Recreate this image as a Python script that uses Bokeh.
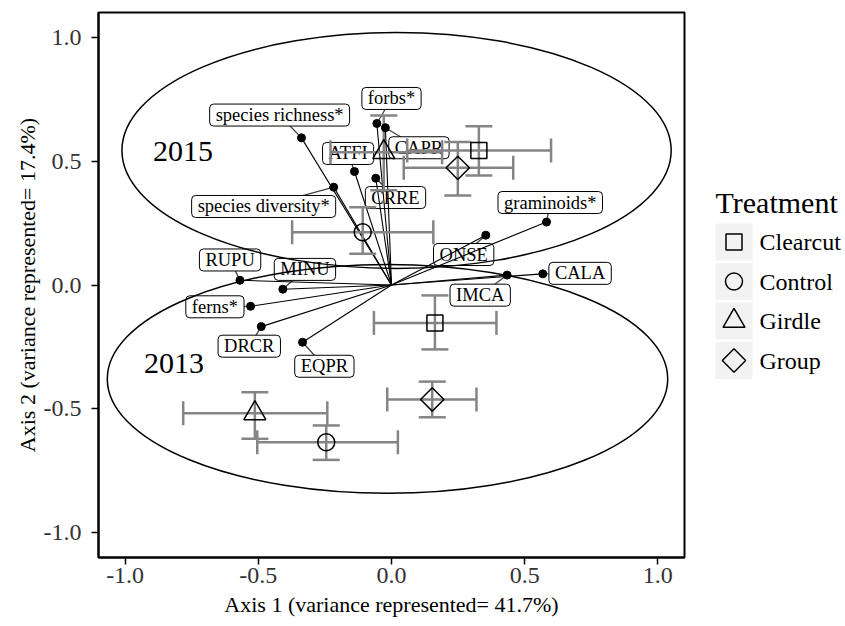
import numpy as np
from bokeh.plotting import figure
from bokeh.models import ColumnDataSource, Range1d, FixedTicker
from bokeh.layouts import row
from bokeh.embed import file_html
from bokeh.resources import INLINE
from bokeh.core.properties import value

# ---------------- data ----------------
vec_names = ["species richness*", "forbs*", "CAPR", "ATFI", "CRRE", "species diversity*",
             "graminoids*", "ONSE", "RUPU", "MINU", "IMCA", "CALA", "ferns*", "DRCR", "EQPR"]
vec_x = [-0.338, -0.055, -0.023, -0.139, -0.059, -0.217, 0.582, 0.354, -0.569, -0.408,
         0.434, 0.568, -0.529, -0.489, -0.334]
vec_y = [0.594, 0.652, 0.635, 0.458, 0.431, 0.395, 0.254, 0.201, 0.019, -0.017,
         0.040, 0.045, -0.086, -0.168, -0.231]
lab_x = [-0.420, 0.000, 0.103, -0.163, 0.015, -0.480, 0.596, 0.271, -0.606, -0.325,
         0.333, 0.708, -0.663, -0.534, -0.252]
lab_y = [0.686, 0.753, 0.554, 0.531, 0.353, 0.317, 0.333, 0.123, 0.101, 0.063,
         -0.041, 0.047, -0.088, -0.247, -0.328]

treatments = ["Clearcut", "Control", "Girdle", "Group"]
trt = treatments * 2
year = ["2015"] * 4 + ["2013"] * 4
cx = [0.328, -0.108, -0.029, 0.249, 0.163, -0.245, -0.513, 0.153]
cy = [0.543, 0.213, 0.536, 0.473, -0.153, -0.635, -0.518, -0.462]
x_lo = [0.059, -0.373, -0.229, 0.046, -0.066, -0.504, -0.782, -0.016]
x_hi = [0.599, 0.157, 0.190, 0.457, 0.394, 0.024, -0.241, 0.319]
y_lo = [0.442, 0.126, 0.382, 0.361, -0.260, -0.706, -0.621, -0.534]
y_hi = [0.641, 0.314, 0.684, 0.577, -0.042, -0.567, -0.433, -0.390]

ell_year = ["2015", "2013"]
ell_cx = [0.019, -0.015]
ell_cy = [0.543, -0.379]
ell_w = [2.062, 2.104]
ell_h = [0.952, 0.924]

year_lab = ["2015", "2013"]
year_x = [-0.783, -0.817]
year_y = [0.540, -0.315]

tick_vals = [-1.0, -0.5, 0.0, 0.5, 1.0]
tick_labels = ["-1.0", "-0.5", "0.0", "0.5", "1.0"]

x_title = "Axis 1 (variance represented= 41.7%)"
y_title = "Axis 2 (variance represented= 17.4%)"
legend_title = "Treatment"

# ---------------- styles ----------------
FONT = "Liberation Serif"
GRAY = "#858585"
marker_style = {
    "Clearcut": ("square", 16, 0.0),
    "Control": ("circle", 17, 0.0),
    "Girdle": ("triangle", 22, 0.0),
    "Group": ("square", 16.5, np.pi / 4),
}

p = figure(width=700, height=626, x_range=Range1d(-1.1, 1.1), y_range=Range1d(-1.1, 1.1),
           output_backend="svg", toolbar_location=None,
           min_border_left=98, min_border_right=16, min_border_top=12, min_border_bottom=69)
p.grid.visible = False
p.outline_line_color = "black"
p.outline_line_width = 2
p.background_fill_color = "white"
p.border_fill_color = "white"

for ax in (p.xaxis[0], p.yaxis[0]):
    ax.ticker = FixedTicker(ticks=tick_vals)
    ax.major_label_overrides = {v: s for v, s in zip(tick_vals, tick_labels)}
    ax.major_label_text_font = FONT
    ax.major_label_text_font_size = "24px"
    ax.major_label_text_color = "#333333"
    ax.axis_label_text_font = FONT
    ax.axis_label_text_font_size = "22px"
    ax.axis_label_text_font_style = "normal"
    ax.axis_label_text_color = "black"
    ax.major_tick_in = 0
    ax.major_tick_out = 7
    ax.major_tick_line_width = 1.5
    ax.minor_tick_line_color = None
    ax.axis_line_color = "black"
    ax.axis_line_width = 2

p.xaxis.axis_label = x_title
p.yaxis.axis_label = y_title
p.xaxis.major_label_standoff = 3
p.xaxis.axis_label_standoff = 6
p.yaxis.major_label_standoff = 10
p.yaxis.axis_label_standoff = 1

# label leader lines and labels (drawn first)
lab_src = ColumnDataSource(dict(name=vec_names, vx=vec_x, vy=vec_y, lx=lab_x, ly=lab_y))
p.segment(x0="vx", y0="vy", x1="lx", y1="ly", source=lab_src, line_color="#444444", line_width=1.3)
p.text(x="lx", y="ly", text="name", source=lab_src,
       text_font=value(FONT), text_font_size="18.5px", text_color="black",
       text_align="center", text_baseline="middle",
       background_fill_color="white", background_fill_alpha=1.0,
       border_line_color="black", border_line_width=1, border_radius=4,
       padding=dict(left=6, right=6, top=1, bottom=1))

# ellipses
ell_src = ColumnDataSource(dict(x=ell_cx, y=ell_cy, w=ell_w, h=ell_h))
p.ellipse(x="x", y="y", width="w", height="h", source=ell_src,
          fill_color=None, line_color="black", line_width=1.5)

# year labels
p.text(x=year_x, y=year_y, text=year_lab, text_font=value(FONT), text_font_size="30px",
       text_align="center", text_baseline="middle", text_color="black")

# vectors
p.segment(x0=[0] * len(vec_x), y0=[0] * len(vec_y), x1=vec_x, y1=vec_y,
          line_color="black", line_width=1.1)

# error bars
eb = ColumnDataSource(dict(cx=cx, cy=cy, x_lo=x_lo, x_hi=x_hi, y_lo=y_lo, y_hi=y_hi,
                           marker=[marker_style[t][0] for t in trt],
                           size=[marker_style[t][1] for t in trt],
                           angle=[marker_style[t][2] for t in trt]))
p.segment(x0="x_lo", y0="cy", x1="x_hi", y1="cy", source=eb, line_color=GRAY, line_width=2.5)
p.segment(x0="cx", y0="y_lo", x1="cx", y1="y_hi", source=eb, line_color=GRAY, line_width=2.5)
for col in ("x_lo", "x_hi"):
    p.scatter(x=col, y="cy", source=eb, marker="dash", size=24, angle=np.pi / 2,
              line_color=GRAY, line_width=2.5)
for col in ("y_lo", "y_hi"):
    p.scatter(x="cx", y=col, source=eb, marker="dash", size=27, angle=0,
              line_color=GRAY, line_width=2.5)

# treatment centroids
p.scatter(x="cx", y="cy", source=eb, marker="marker", size="size", angle="angle",
          fill_color=None, line_color="black", line_width=1.5)

# vector tips
p.scatter(x=vec_x, y=vec_y, size=8, color="black")

# ---------------- legend panel ----------------
# the row aligns this panel's frame with the main frame (page y 12..557)
leg = figure(width=145, height=626, x_range=Range1d(0, 145), y_range=Range1d(557, 12),
             output_backend="svg", toolbar_location=None, min_border=0,
             x_axis_type=None, y_axis_type=None)
leg.grid.visible = False
leg.outline_line_color = None
leg.background_fill_color = "white"
leg.border_fill_color = "white"

key_x = 33.5
key_y = [241.5 + 39.5 * i for i in range(len(treatments))]
leg.rect(x=[key_x] * len(treatments), y=key_y, width=37, height=37,
         fill_color="#f2f2f2", line_color=None)
leg.scatter(x=[key_x] * len(treatments), y=key_y,
            marker=[marker_style[t][0] for t in treatments],
            size=[marker_style[t][1] for t in treatments],
            angle=[-marker_style[t][2] for t in treatments],
            fill_color=None, line_color="black", line_width=1.5)
leg.text(x=[59] * len(treatments), y=key_y, text=treatments,
         text_font=value(FONT), text_font_size="24px", text_align="left",
         text_baseline="middle", text_color="black")
leg.text(x=[15], y=[202], text=[legend_title], text_font=value(FONT), text_font_size="30px",
         text_align="left", text_baseline="middle", text_color="black")

layout = row(p, leg)
open("out.html", "w").write(file_html(layout, INLINE))
